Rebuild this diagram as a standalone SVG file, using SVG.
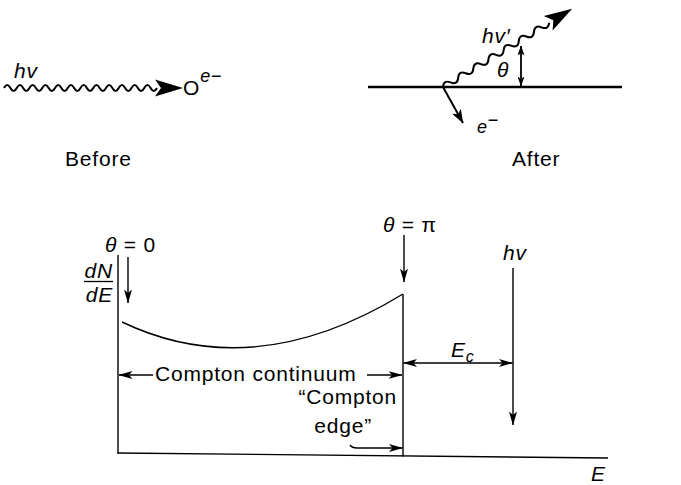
<svg xmlns="http://www.w3.org/2000/svg" width="681" height="485" viewBox="0 0 681 485">
<style>
text{font-family:"Liberation Sans",Arial,Helvetica,sans-serif;font-size:21px;letter-spacing:0.8px;fill:#000}
.it{font-style:italic}
.ln{stroke:#000;stroke-width:1.4;fill:none}
.wave{stroke:#000;stroke-width:2;fill:none}
.thick{stroke:#000;stroke-width:2.4;fill:none}
</style>
<defs>
<marker id="ah" viewBox="0 0 14 8" refX="13.5" refY="4" markerWidth="14" markerHeight="8" markerUnits="userSpaceOnUse" orient="auto-start-reverse">
<path d="M0,0 L14,4 L0,8 L3.5,4 z" fill="#000"/>
</marker>
<marker id="ahm" viewBox="0 0 14 10" refX="13.5" refY="5" markerWidth="14" markerHeight="10" markerUnits="userSpaceOnUse" orient="auto-start-reverse">
<path d="M0,0 L14,5 L0,10 L3.5,5 z" fill="#000"/>
</marker>
<marker id="ahs" viewBox="0 0 10 7" refX="9.5" refY="3.5" markerWidth="10" markerHeight="7" markerUnits="userSpaceOnUse" orient="auto-start-reverse">
<path d="M0,0 L10,3.5 L0,7 L2.5,3.5 z" fill="#000"/>
</marker>
</defs>
<rect width="681" height="485" fill="#fff"/>

<g id="before">
<text class="it" x="14" y="78">hv</text>
<path class="wave" d="M4,88 q3.1875,-6 6.375,0 t6.375,0 t6.375,0 t6.375,0 t6.375,0 t6.375,0 t6.375,0 t6.375,0 t6.375,0 t6.375,0 t6.375,0 t6.375,0 t6.375,0 t6.375,0 t6.375,0 t6.375,0 t6.375,0 t6.375,0 t6.375,0 t6.375,0 t6.375,0 t6.375,0 t6.375,0 t6.375,0"/>
<polygon points="183,88 155,79.5 161,88 155,96.5" fill="#000"/>
<text x="183" y="95">O<tspan class="it" font-size="18" dy="-13">e</tspan><tspan font-size="18">−</tspan></text>
<text x="65" y="166">Before</text>
</g>

<g id="after">
<line class="thick" x1="368" y1="87" x2="622" y2="87"/>
<g transform="translate(443,87) rotate(-31.2)">
<path class="wave" d="M0,0 q4.43,-6 8.86,0 t8.86,0 t8.86,0 t8.86,0 t8.86,0 t8.86,0 t8.86,0 t8.86,0 t8.86,0 t8.86,0 t8.86,0 t8.86,0 t8.86,0 t8.86,0"/>
<polygon points="151,0 123,-8.5 129,0 123,8.5" fill="#000"/>
</g>
<line x1="443" y1="87" x2="463" y2="123" stroke="#000" stroke-width="2" marker-end="url(#ahm)"/>
<line x1="521" y1="86" x2="521" y2="46" stroke="#000" stroke-width="1.8" marker-start="url(#ahs)" marker-end="url(#ahs)"/>
<text class="it" x="482" y="43">hv′</text>
<text class="it" x="497" y="77" font-size="19">θ</text>
<text x="477" y="133"><tspan class="it" font-size="18">e</tspan><tspan font-size="18" dy="-7">−</tspan></text>
<text x="512" y="166">After</text>
</g>

<g id="graph">
<line class="ln" x1="118" y1="255" x2="118" y2="453.5"/>
<line class="ln" x1="117.3" y1="453" x2="608" y2="458"/>
<path class="ln" d="M122,322 Q254,385 403,294"/>
<line class="ln" x1="403" y1="294" x2="403" y2="456.5"/>
<text class="it" x="113" y="278" text-anchor="end" font-size="20" letter-spacing="0">dN</text>
<line x1="84" y1="281.5" x2="113" y2="281.5" stroke="#000" stroke-width="1.3"/>
<text class="it" x="113" y="302" text-anchor="end" font-size="20" letter-spacing="0">dE</text>
<text class="it" x="591" y="481">E</text>
</g>

<g id="labels">
<text x="105" y="252"><tspan class="it">θ</tspan> = 0</text>
<text x="383" y="232"><tspan class="it">θ</tspan> = π</text>
<text class="it" x="503" y="260">hv</text>
<text class="it" x="451" y="357">E<tspan font-size="16" dy="5">c</tspan></text>
<text x="155" y="381" letter-spacing="1.4">Compton continuum</text>
<text x="397" y="404" text-anchor="end">“Compton</text>
<text x="372" y="433" text-anchor="end">edge”</text>
</g>

<g id="connectors">
<line class="ln" x1="128" y1="257" x2="128" y2="303" marker-end="url(#ah)"/>
<line class="ln" x1="404" y1="235" x2="404" y2="282" marker-end="url(#ah)"/>
<line class="ln" x1="513" y1="268" x2="513" y2="425" marker-end="url(#ah)"/>
<line class="ln" x1="403.5" y1="363" x2="512.5" y2="363" marker-start="url(#ah)" marker-end="url(#ah)"/>
<line class="ln" x1="153" y1="375" x2="119" y2="375" marker-end="url(#ah)"/>
<line class="ln" x1="367" y1="375" x2="402" y2="375" marker-end="url(#ah)"/>
<path class="ln" d="M350,445 Q352,448 357,448 L402.5,448" marker-end="url(#ah)"/>
</g>
</svg>
